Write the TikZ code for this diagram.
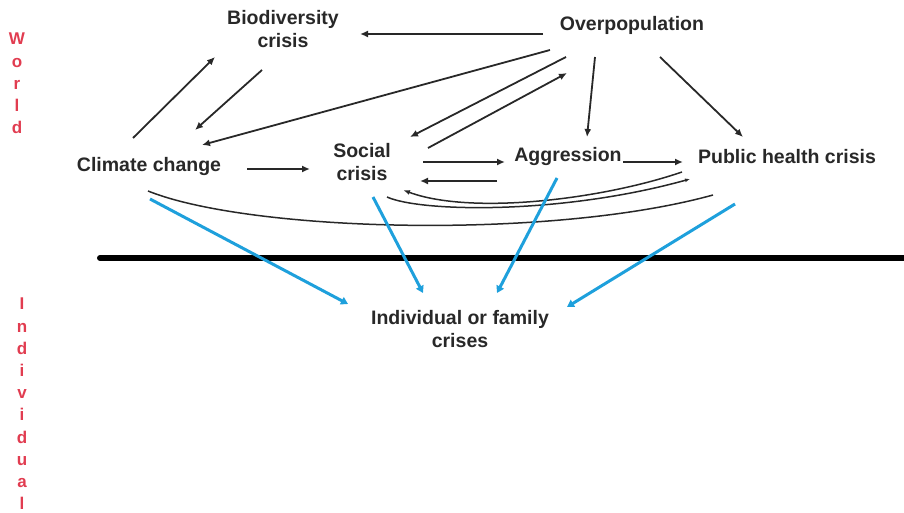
\documentclass[tikz,border=0pt]{standalone}
\usepackage{fontspec}
\setmainfont{Liberation Sans}
\usetikzlibrary{arrows.meta}
\definecolor{txt}{RGB}{40,40,40}
\definecolor{ln}{RGB}{40,40,40}
\definecolor{blu}{RGB}{30,160,220}
\definecolor{redl}{RGB}{225,60,80}
\tikzset{
  lbl/.style={inner sep=0pt, align=center, text=txt, font=\bfseries\fontsize{19.5bp}{23bp}\selectfont},
  side/.style={inner sep=0pt, text=redl, font=\bfseries\fontsize{17bp}{22.2bp}\selectfont, align=center},
  arr/.style={draw=ln, line width=1.8bp, -{Latex[length=8bp,width=7bp]}},
  curv/.style={draw=ln, line width=1.5bp},
  barr/.style={draw=blu, line width=3bp, -{Triangle[length=7bp,width=8bp]}},
}
\begin{document}
\begin{tikzpicture}[x=1bp,y=-1bp]
\useasboundingbox (0,0) rectangle (904,513);
% nodes
\node[lbl] (bio) at (283,29) {Biodiversity\\crisis};
\node[lbl] (op) at (632,25) {Overpopulation};
\node[lbl] (cc) at (149,167) {Climate change};
\node[lbl] (sc) at (362,162) {Social\\crisis};
\node[lbl] (ag) at (568,157) {Aggression};
\node[lbl] (ph) at (787,157) {Public health crisis};
\node[lbl] (ind) at (460,329) {Individual or family\\crises};
% side labels
\node[side, anchor=north] (world) at (17,33) {W\\o\\r\\l\\d};
\node[side, anchor=north] (indiv) at (22,298) {I\\n\\d\\i\\v\\i\\d\\u\\a\\l};
% divider
\coordinate (divl) at (100,258);
\coordinate (divr) at (904,258);
\draw[line width=6bp, line cap=round, black] (divl) -- (divr);
% black arrows
\draw[arr] ([shift={(-89,9)}]op.center) -- ([shift={(77,5)}]bio.center);
\draw[arr] ([shift={(-16,-29)}]cc.center) -- ([shift={(-68,28)}]bio.center);
\draw[arr] ([shift={(-21,41)}]bio.center) -- ([shift={(46,-37)}]cc.center);
\draw[arr] ([shift={(-82,25)}]op.center) -- ([shift={(53,-22)}]cc.center);
\draw[arr] ([shift={(-66,32)}]op.center) -- ([shift={(48,-25)}]sc.center);
\draw[arr] ([shift={(66,-14)}]sc.center) -- ([shift={(-65,48)}]op.center);
\draw[arr] ([shift={(-37,32)}]op.center) -- ([shift={(19,-20)}]ag.center);
\draw[arr] ([shift={(28,32)}]op.center) -- ([shift={(-44,-20)}]ph.center);
\draw[arr] ([shift={(98,2)}]cc.center) -- ([shift={(-52,7)}]sc.center);
\draw[arr] ([shift={(61,0)}]sc.center) -- ([shift={(-63,5)}]ag.center);
\draw[arr] ([shift={(-71,24)}]ag.center) -- ([shift={(58,19)}]sc.center);
\draw[arr] ([shift={(55,5)}]ag.center) -- ([shift={(-104,5)}]ph.center);
% curves
\draw[curv, -{Latex[length=7bp,width=5bp]}] ([shift={(-105,15)}]ph.center) .. controls (600,200) and (470,215) .. ([shift={(41,28)}]sc.center);
\draw[curv, -{Latex[length=5bp,width=4bp]}] ([shift={(25,35)}]sc.center) .. controls (420,212) and (560,215) .. ([shift={(-97,22)}]ph.center);
\draw[curv] ([shift={(-74,38)}]ph.center) .. controls (550,240) and (250,232) .. ([shift={(-1,24)}]cc.center);
% blue arrows
\draw[barr] ([shift={(1,32)}]cc.center) -- ([shift={(-112,-25)}]ind.center);
\draw[barr] ([shift={(11,35)}]sc.center) -- ([shift={(-37,-36)}]ind.center);
\draw[barr] ([shift={(-11,21)}]ag.center) -- ([shift={(37,-36)}]ind.center);
\draw[barr] ([shift={(-52,47)}]ph.center) -- ([shift={(107,-22)}]ind.center);
\end{tikzpicture}
\end{document}
